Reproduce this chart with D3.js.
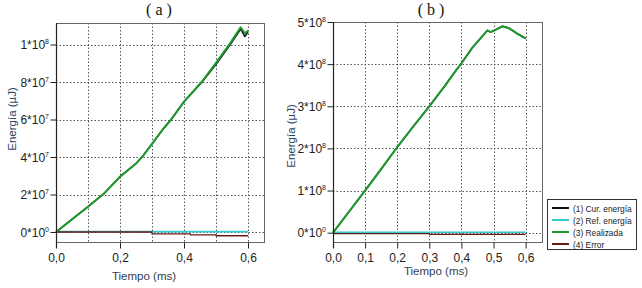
<!DOCTYPE html>
<html><head><meta charset="utf-8">
<script src="https://cdn.jsdelivr.net/npm/d3@7"></script>
<style>
body{margin:0;background:#fff;}
svg{display:block;font-family:"Liberation Sans",Arial,sans-serif;}
</style></head><body>
<svg id="c" width="642" height="288"></svg>
<script>
// ---------- DATA ----------
const seriesNames = ["(1) Cur. energía", "(2) Ref. energía", "(3) Realizada", "(4) Error"];
const seriesColors = ["#111111", "#33cccc", "#1f9a2e", "#6b1a1a"];

// Panel (a)
const tA    = [0, 0.05, 0.1, 0.15, 0.2, 0.25, 0.27, 0.3, 0.335, 0.36, 0.4, 0.455, 0.5, 0.544, 0.577, 0.59, 0.6];
const realA = [0, 0.68e7, 1.35e7, 2.05e7, 2.95e7, 3.65e7, 4.02e7, 4.7e7, 5.5e7, 6.0e7, 6.95e7, 8.0e7, 9.02e7, 1.006e8, 1.092e8, 1.06e8, 1.074e8];
const curA  = [0, 0.68e7, 1.35e7, 2.05e7, 2.95e7, 3.65e7, 4.02e7, 4.7e7, 5.5e7, 6.0e7, 6.95e7, 7.97e7, 8.95e7, 0.998e8, 1.083e8, 1.043e8, 1.066e8];
const refTA = [0, 0.6];
const refA  = [0.02e7, 0.02e7];
const errTA = [0, 0.3, 0.3, 0.42, 0.42, 0.5, 0.5, 0.6];
const errA  = [0, 0, -0.1e7, -0.1e7, -0.15e7, -0.15e7, -0.2e7, -0.2e7];
const yTicksA = [0, 2e7, 4e7, 6e7, 8e7, 1e8];
const yTickLabelsA = ["0*10^0", "2*10^7", "4*10^7", "6*10^7", "8*10^7", "1*10^8"];
const xTicksA = [0, 0.2, 0.4, 0.6];
const xGridA = [0.1, 0.2, 0.3, 0.4, 0.5, 0.6];

// Panel (b)
const tB    = [0, 0.05, 0.1, 0.15, 0.2, 0.25, 0.3, 0.35, 0.38, 0.4, 0.434, 0.481, 0.491, 0.5, 0.528, 0.549, 0.575, 0.6];
const realB = [0, 0.5e8, 1.0e8, 1.51e8, 2.03e8, 2.52e8, 3.0e8, 3.5e8, 3.82e8, 4.02e8, 4.39e8, 4.8e8, 4.76e8, 4.79e8, 4.9e8, 4.85e8, 4.72e8, 4.61e8];
const curB  = realB.slice();
const refTB = [0, 0.6];
const refB  = [0.01e8, 0.01e8];
const errTB = [0, 0.3, 0.3, 0.6];
const errB  = [-0.02e8, -0.02e8, -0.04e8, -0.04e8];
const yTicksB = [0, 1e8, 2e8, 3e8, 4e8, 5e8];
const yTickLabelsB = ["0*10^0", "1*10^8", "2*10^8", "3*10^8", "4*10^8", "5*10^8"];
const xTicksB = [0, 0.1, 0.2, 0.3, 0.4, 0.5, 0.6];
const xGridB = [0.1, 0.2, 0.3, 0.4, 0.5, 0.6];

const titles = ["( a )", "( b )"];
const xLabel = "Tiempo (ms)";
const yLabel = "Energía (µJ)";

// ---------- DRAW ----------
const FONT = "'Liberation Sans', Arial, sans-serif";
const svg = d3.select("#c");
const loc = d3.formatLocale({decimal: ",", thousands: ".", grouping: [3], currency: ["", ""]});
const fmt = loc.format(".1f");

function zip(t, v){ return t.map((d,i)=>({t:d, v:v[i]})); }

function panel(o){
  const x = d3.scaleLinear().domain(o.xDomain).range([o.left, o.right]);
  const y = d3.scaleLinear().domain(o.yDomain).range([o.bottom, o.top]);
  const g = svg.append("g").attr("font-family", FONT);

  // grid
  const grid = g.append("g").attr("stroke", "#555").attr("stroke-width", 1).attr("stroke-dasharray", "1.5,2");
  o.yGrid.forEach(v => grid.append("line").attr("x1", o.left).attr("x2", o.right)
      .attr("y1", Math.round(y(v))+0.5).attr("y2", Math.round(y(v))+0.5));
  o.xGrid.forEach(v => grid.append("line").attr("y1", o.top).attr("y2", o.bottom)
      .attr("x1", Math.round(x(v))+0.5).attr("x2", Math.round(x(v))+0.5));

  // frame
  g.append("rect").attr("x", o.left+0.5).attr("y", o.top+0.5)
    .attr("width", o.right-o.left).attr("height", o.bottom-o.top)
    .attr("fill", "none").attr("stroke", "#666").attr("stroke-width", 1);

  // lines
  const line = d3.line().x(d=>x(d.t)).y(d=>y(d.v));
  const order = [
    {d: zip(o.refT, o.ref), c: seriesColors[1], w: 1.6},
    {d: zip(o.t, o.cur), c: seriesColors[0], w: 1.6},
    {d: zip(o.errT, o.err), c: seriesColors[3], w: 1.3},
    {d: zip(o.t, o.real), c: seriesColors[2], w: 2}
  ];
  order.forEach(s => g.append("path").attr("d", line(s.d)).attr("fill", "none")
      .attr("stroke", s.c).attr("stroke-width", s.w).attr("stroke-linejoin", "round"));

  // left axis
  const ya = d3.axisLeft(y).tickValues(o.yTicks).tickSize(6).tickFormat("");
  const yg = g.append("g").attr("transform", `translate(${o.left+0.5},0)`).call(ya);
  yg.select(".domain").remove();
  yg.selectAll(".tick line").attr("stroke", "#222");
  g.append("line").attr("x1", o.left+0.5).attr("x2", o.left+0.5).attr("y1", o.top).attr("y2", o.bottom+6)
    .attr("stroke", "#222").attr("stroke-width", 1.2);
  o.yTicks.forEach((v,i) => {
    const parts = o.yTickLabels[i].split("^");
    const tx = g.append("text").attr("x", o.left-7).attr("y", y(v)+4.5)
      .attr("text-anchor", "end").attr("font-size", 12).attr("fill", "#222");
    tx.append("tspan").text(parts[0]);
    tx.append("tspan").attr("dy", -5).attr("font-size", 7).text(parts[1]);
  });

  // bottom axis
  const xa = d3.axisBottom(x).tickValues(o.xTicks).tickSize(6).tickFormat(fmt);
  const xg = g.append("g").attr("transform", `translate(0,${o.bottom+0.5})`).call(xa);
  xg.attr("font-family", FONT);
  xg.select(".domain").remove();
  xg.selectAll(".tick line").attr("stroke", "#222");
  xg.selectAll(".tick text").attr("font-size", 12).attr("fill", "#222").attr("dy", "0.85em");

  // titles & labels
  g.append("text").attr("x", o.titleX).attr("y", 15).attr("text-anchor", "middle")
    .attr("font-family", "'Liberation Serif','Times New Roman',serif").attr("font-size", 16).attr("fill", "#111")
    .text(o.title);
  g.append("text").attr("x", o.xLabelX).attr("y", o.xLabelY).attr("text-anchor", "middle")
    .attr("font-size", 11.5).attr("fill", "#34404e").text(xLabel);
  g.append("text").attr("transform", `translate(${o.yLabelX},${o.yLabelY}) rotate(-90)`)
    .attr("text-anchor", "middle").attr("font-size", 11.5).attr("fill", "#2b4468").text(yLabel);
}

panel({
  left: 56, right: 264, top: 23, bottom: 242,
  xDomain: [0, 0.65], yDomain: [-0.533e7, 11.147e7],
  t: tA, real: realA, cur: curA, refT: refTA, ref: refA, errT: errTA, err: errA,
  yTicks: yTicksA, yTickLabels: yTickLabelsA, yGrid: yTicksA,
  xTicks: xTicksA, xGrid: xGridA,
  title: titles[0], titleX: 159, xLabelX: 144, xLabelY: 280, yLabelX: 16, yLabelY: 119
});

panel({
  left: 333, right: 542, top: 22, bottom: 242,
  xDomain: [0, 0.651], yDomain: [-0.221e8, 5e8],
  t: tB, real: realB, cur: curB, refT: refTB, ref: refB, errT: errTB, err: errB,
  yTicks: yTicksB, yTickLabels: yTickLabelsB, yGrid: yTicksB.slice(0, 5),
  xTicks: xTicksB, xGrid: xGridB,
  title: titles[1], titleX: 431, xLabelX: 436, xLabelY: 275, yLabelX: 295, yLabelY: 136
});

// legend
const lg = svg.append("g").attr("font-family", FONT);
lg.append("rect").attr("x", 547.5).attr("y", 199.5).attr("width", 89).attr("height", 50)
  .attr("fill", "#fff").attr("stroke", "#333").attr("stroke-width", 1);
seriesNames.forEach((n,i) => {
  const yy = 208 + i*12;
  lg.append("line").attr("x1", 552).attr("x2", 569).attr("y1", yy).attr("y2", yy)
    .attr("stroke", seriesColors[i]).attr("stroke-width", 2);
  lg.append("text").attr("x", 573).attr("y", yy+3.5).attr("font-size", 8.4).attr("fill", "#222").text(n);
});
</script>
</body></html>
